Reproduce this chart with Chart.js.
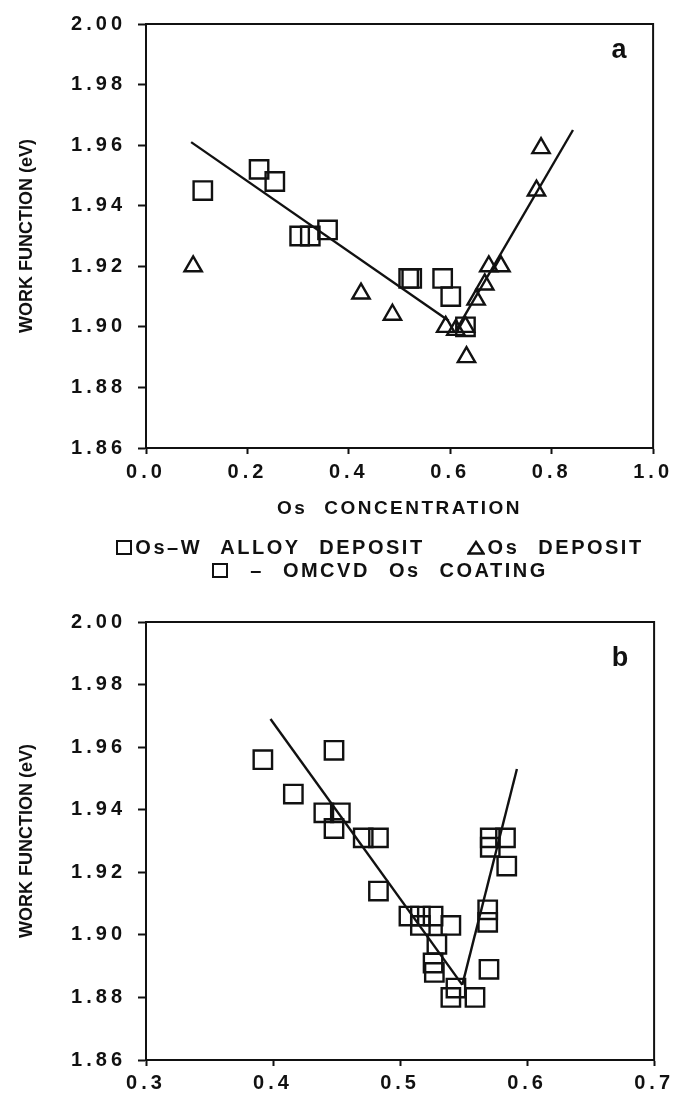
<!DOCTYPE html>
<html>
<head>
<meta charset="utf-8">
<script src="https://cdn.jsdelivr.net/npm/chart.js@4.4.1/dist/chart.umd.min.js"></script>
<style>
  body { margin: 0; background: #fff; }
  #wrap { position: relative; width: 679px; height: 1099px; overflow: hidden; }
  canvas { position: absolute; left: 0; }
  #chartA { top: 0; }
  #chartB { top: 590px; }
  #legend {
    position: absolute; top: 536px; left: 100px; width: 560px;
    text-align: center; color: #111;
    font: bold 20px "Liberation Sans", Arial, sans-serif;
    line-height: 23px; letter-spacing: 2.5px; word-spacing: 11px;
    white-space: nowrap;
  }
  #legend .gap { display: inline-block; width: 42px; }
  #legend .sq { display: inline-block; box-sizing: border-box; width: 16px; height: 15px;
                border: 2.5px solid #111; vertical-align: -1px; margin-right: 3px; }
  #legend svg { vertical-align: -1px; margin-right: 3px; }
</style>
</head>
<body>
<div id="wrap">
  <canvas id="chartA" width="679" height="540"></canvas>
  <div id="legend">
    <div><span class="sq"></span>Os–W ALLOY DEPOSIT<span class="gap"></span><svg width="18" height="15"><polygon points="9,2 16.5,13.5 1.5,13.5" fill="none" stroke="#111" stroke-width="2.4"/></svg>Os DEPOSIT</div>
    <div><span class="sq"></span> – OMCVD Os COATING</div>
  </div>
  <canvas id="chartB" width="679" height="509"></canvas>
</div>
<script>
// panel a - Os-W alloy deposits (squares) and Os deposits (triangles)
const alloyConc = [0.112, 0.223, 0.254, 0.303, 0.324, 0.358, 0.518, 0.524, 0.585, 0.601, 0.630]
const alloyWF   = [1.945, 1.952, 1.948, 1.930, 1.930, 1.932, 1.916, 1.916, 1.916, 1.910, 1.900]
const osConc = [0.093, 0.424, 0.486, 0.591, 0.611, 0.630, 0.632, 0.651, 0.668, 0.676, 0.700, 0.770, 0.779]
const osWF   = [1.920, 1.911, 1.904, 1.900, 1.899, 1.900, 1.890, 1.909, 1.914, 1.920, 1.920, 1.945, 1.959]
// fitted lines of panel a (end points)
const fitA1Conc = [0.089, 0.597], fitA1WF = [1.961, 1.902]
const fitA2Conc = [0.612, 0.842], fitA2WF = [1.899, 1.965]

// panel b - OMCVD Os coatings
const omcvdConc = [0.392, 0.416, 0.440, 0.448, 0.448, 0.453, 0.471, 0.483, 0.483,
                   0.507, 0.516, 0.526, 0.516, 0.540, 0.529, 0.526, 0.527, 0.544,
                   0.540, 0.559, 0.570, 0.569, 0.569, 0.571, 0.571, 0.583, 0.584]
const omcvdWF   = [1.956, 1.945, 1.939, 1.959, 1.934, 1.939, 1.931, 1.931, 1.914,
                   1.906, 1.906, 1.906, 1.903, 1.903, 1.897, 1.891, 1.888, 1.883,
                   1.880, 1.880, 1.889, 1.908, 1.904, 1.931, 1.928, 1.931, 1.922]
const fitB1Conc = [0.398, 0.549], fitB1WF = [1.969, 1.884]
const fitB2Conc = [0.549, 0.592], fitB2WF = [1.884, 1.953]

// axes
const concTicksA = [0.0, 0.2, 0.4, 0.6, 0.8, 1.0]
const concTicksB = [0.3, 0.4, 0.5, 0.6, 0.7]
const wfTicks = [1.86, 1.88, 1.90, 1.92, 1.94, 1.96, 1.98, 2.00]

const fam = '"Liberation Sans", Arial, sans-serif'
const ink = '#111'

// the old figure has widely spaced lettering, picked by font size
const spacingBySize = { '20px': '4px', '19px': '2.5px' }
function letterSpaced(ctx) {
  const fontProp = Object.getOwnPropertyDescriptor(CanvasRenderingContext2D.prototype, 'font')
  Object.defineProperty(ctx, 'font', {
    get() { return fontProp.get.call(this) },
    set(v) {
      fontProp.set.call(this, v)
      const m = /(\d+(?:\.\d+)?px)/.exec(v)
      this.letterSpacing = (m && spacingBySize[m[1]]) || '0px'
      this.wordSpacing = (m && m[1] === '19px') ? '9px' : '0px'
    }
  })
  return ctx
}

const pts = (xs, ys) => xs.map((x, i) => ({ x, y: ys[i] }))

const markers = (label, xs, ys, style, r) => ({
  label, data: pts(xs, ys), showLine: false,
  pointStyle: style, pointRadius: r, pointHoverRadius: r,
  pointBorderColor: ink, pointBackgroundColor: 'rgba(0,0,0,0)', pointBorderWidth: 2.4
})
const fit = (xs, ys) => ({
  data: pts(xs, ys), showLine: true, borderColor: ink, borderWidth: 2.4,
  pointRadius: 0, pointHoverRadius: 0, fill: false
})

// closed frame + panel letter
const frame = {
  id: 'frame',
  afterDraw(chart, args, opts) {
    const { ctx, chartArea: a } = chart
    ctx.save()
    ctx.strokeStyle = ink
    ctx.lineWidth = 2
    ctx.strokeRect(a.left, a.top, a.right - a.left, a.bottom - a.top)
    ctx.font = 'bold 27px ' + fam
    ctx.fillStyle = ink
    ctx.textAlign = 'center'
    ctx.textBaseline = 'middle'
    ctx.fillText(opts.tag, a.right - 34, a.top + opts.dy)
    ctx.restore()
  }
}

const tickFont = { family: fam, size: 20, weight: 'bold' }

function concAxis(ticks, decimals, height, pad, title) {
  return {
    type: 'linear', min: ticks[0], max: ticks[ticks.length - 1],
    afterBuildTicks: s => { s.ticks = ticks.map(v => ({ value: v })) },
    ticks: { callback: v => v.toFixed(decimals), font: tickFont, color: ink, padding: pad, maxRotation: 0, autoSkip: false },
    grid: { drawOnChartArea: false, tickLength: 6, tickWidth: 2, tickColor: ink },
    border: { color: ink, width: 2 },
    title: title ? { display: true, text: title, color: ink, font: { family: fam, size: 19, weight: 'bold' }, padding: { top: 4, bottom: 14 } } : { display: false },
    afterFit: s => { s.height = height }
  }
}

function wfAxis() {
  return {
    type: 'linear', min: wfTicks[0], max: wfTicks[wfTicks.length - 1],
    afterBuildTicks: s => { s.ticks = wfTicks.map(v => ({ value: v })) },
    ticks: { callback: v => v.toFixed(2), font: tickFont, color: ink, padding: 12 },
    grid: { drawOnChartArea: false, tickLength: 8, tickWidth: 2, tickColor: ink },
    border: { color: ink, width: 2 },
    title: { display: true, text: 'WORK FUNCTION (eV)', color: ink, font: { family: fam, size: 18, weight: 'bold' }, padding: { top: 16 } },
    afterFit: s => { s.width = 146 }
  }
}

const common = {
  responsive: false,
  animation: false,
  events: [],
  plugins: { legend: { display: false }, tooltip: { enabled: false } }
}

let chartA = new Chart(letterSpaced(document.getElementById('chartA').getContext('2d')), {
  type: 'scatter',
  data: {
    datasets: [
      fit(fitA1Conc, fitA1WF),
      fit(fitA2Conc, fitA2WF),
      markers('Os-W ALLOY DEPOSIT', alloyConc, alloyWF, 'rect', 13),
      markers('Os DEPOSIT', osConc, osWF, 'triangle', 10)
    ]
  },
  options: {
    ...common,
    layout: { padding: { top: 18, right: 17, bottom: 6, left: 0 } },
    scales: { x: concAxis(concTicksA, 1, 86, 6, 'Os CONCENTRATION'), y: wfAxis() },
    plugins: { ...common.plugins, frame: { tag: 'a', dy: 27 } }
  },
  plugins: [frame]
})

let chartB = new Chart(letterSpaced(document.getElementById('chartB').getContext('2d')), {
  type: 'scatter',
  data: {
    datasets: [
      fit(fitB1Conc, fitB1WF),
      fit(fitB2Conc, fitB2WF),
      markers('OMCVD Os COATING', omcvdConc, omcvdWF, 'rect', 13)
    ]
  },
  options: {
    ...common,
    layout: { padding: { top: 32, right: 17, bottom: 0, left: 0 } },
    scales: { x: concAxis(concTicksB, 1, 39, 5, null), y: wfAxis() },
    plugins: { ...common.plugins, frame: { tag: 'b', dy: 37 } }
  },
  plugins: [frame]
})
</script>
</body>
</html>
